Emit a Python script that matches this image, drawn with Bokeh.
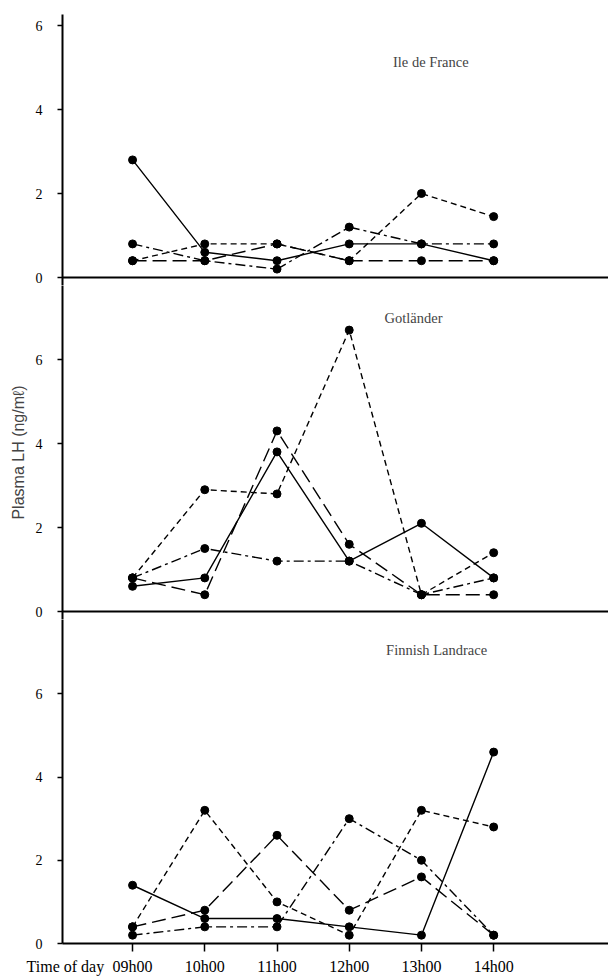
from bokeh.plotting import figure
from bokeh.layouts import column
from bokeh.models import FixedTicker, Span, Label
from bokeh.embed import file_html
from bokeh.resources import INLINE

# ---- data ----
times = ["09h00", "10h00", "11h00", "12h00", "13h00", "14h00"]
axis_caption = "Time of day"
breeds = ["Ile de France", "Gotländer", "Finnish Landrace"]
y_ticks = [0, 2, 4, 6]

ile_solid = [2.8, 0.6, 0.4, 0.8, 0.8, 0.4]
ile_short = [0.4, 0.8, 0.8, 0.4, 2.0, 1.45]
ile_long = [0.4, 0.4, 0.8, 0.4, 0.4, 0.4]
ile_dashdot = [0.8, 0.4, 0.2, 1.2, 0.8, 0.8]

got_solid = [0.6, 0.8, 3.8, 1.2, 2.1, 0.8]
got_short = [0.8, 2.9, 2.8, 6.7, 0.4, 1.4]
got_long = [0.8, 0.4, 4.3, 1.6, 0.4, 0.4]
got_dashdot = [0.8, 1.5, 1.2, 1.2, 0.4, 0.8]

fin_solid = [1.4, 0.6, 0.6, 0.4, 0.2, 4.6]
fin_short = [0.4, 3.2, 1.0, 0.2, 3.2, 2.8]
fin_long = [0.4, 0.8, 2.6, 0.8, 1.6, 0.2]
fin_dashdot = [0.2, 0.4, 0.4, 3.0, 2.0, 0.2]

x = list(range(len(times)))
SERIF = "Liberation Serif"
SANS = "Liberation Sans"
dashes = ["solid", "6 4", "14 6", "10 4 3 4"]
CAPTION_X = -0.93


def make_panel(height, y_start, y_end, series, title, tx, ty, bottom=False, ylabel=None, mb_top=0):
    p = figure(width=608, height=height, x_range=(-0.97, 6.59), y_range=(y_start, y_end),
               output_backend="svg", toolbar_location=None,
               min_border_left=62, min_border_right=0, min_border_top=mb_top,
               min_border_bottom=31 if bottom else 0)
    p.outline_line_color = None
    p.grid.visible = False
    p.background_fill_color = "white"
    p.border_fill_color = "white"
    for ys, d in zip(series, dashes):
        p.line(x, ys, line_color="black", line_width=1.4, line_dash=d)
        p.scatter(x, ys, size=8, color="black")
    ax = p.yaxis[0]
    ax.ticker = FixedTicker(ticks=y_ticks)
    ax.axis_line_width = 2
    ax.axis_line_color = "black"
    ax.major_tick_out = 5
    ax.major_tick_in = 0
    ax.major_tick_line_width = 1.5
    ax.minor_tick_line_color = None
    ax.major_label_standoff = 15
    ax.major_label_text_font = SERIF
    ax.major_label_text_font_size = "14px"
    ax.major_label_text_color = "black"
    if ylabel:
        ax.axis_label = ylabel
        ax.axis_label_text_font = SANS
        ax.axis_label_text_font_size = "16px"
        ax.axis_label_text_font_style = "normal"
        ax.axis_label_standoff = 6
    if bottom:
        xa = p.xaxis[0]
        xa.ticker = FixedTicker(ticks=[CAPTION_X] + x, minor_ticks=x)
        overrides = {i: t for i, t in zip(x, times)}
        overrides[CAPTION_X] = axis_caption
        xa.major_label_overrides = overrides
        xa.axis_line_width = 2
        xa.major_tick_line_color = None
        xa.major_tick_out = 8
        xa.major_tick_in = 0
        xa.minor_tick_out = 8
        xa.minor_tick_in = 0
        xa.minor_tick_line_width = 1.5
        xa.minor_tick_line_color = "black"
        xa.major_label_standoff = 6
        xa.major_label_text_font = SERIF
        xa.major_label_text_font_size = "16px"
        xa.major_label_text_color = "black"
    else:
        p.xaxis.visible = False
        p.add_layout(Span(location=0, dimension="width", line_color="black", line_width=2))
    p.add_layout(Label(x=tx, y=ty, text=title, text_font=SERIF, text_font_size="14.5px",
                       text_align="center", text_baseline="middle"))
    return p


p1 = make_panel(285, -0.19, 6.262, [ile_solid, ile_short, ile_long, ile_dashdot],
                breeds[0], 4.13, 5.12, mb_top=14)
p2 = make_panel(334, -0.19, 7.762, [got_solid, got_short, got_long, got_dashdot],
                breeds[1], 3.89, 6.98, ylabel="Plasma LH (ng/mℓ)")
p3 = make_panel(358, 0, 7.786, [fin_solid, fin_short, fin_long, fin_dashdot],
                breeds[2], 4.21, 7.05, bottom=True)

layout = column(p1, p2, p3, spacing=0)
open("out.html", "w").write(file_html(layout, INLINE))
